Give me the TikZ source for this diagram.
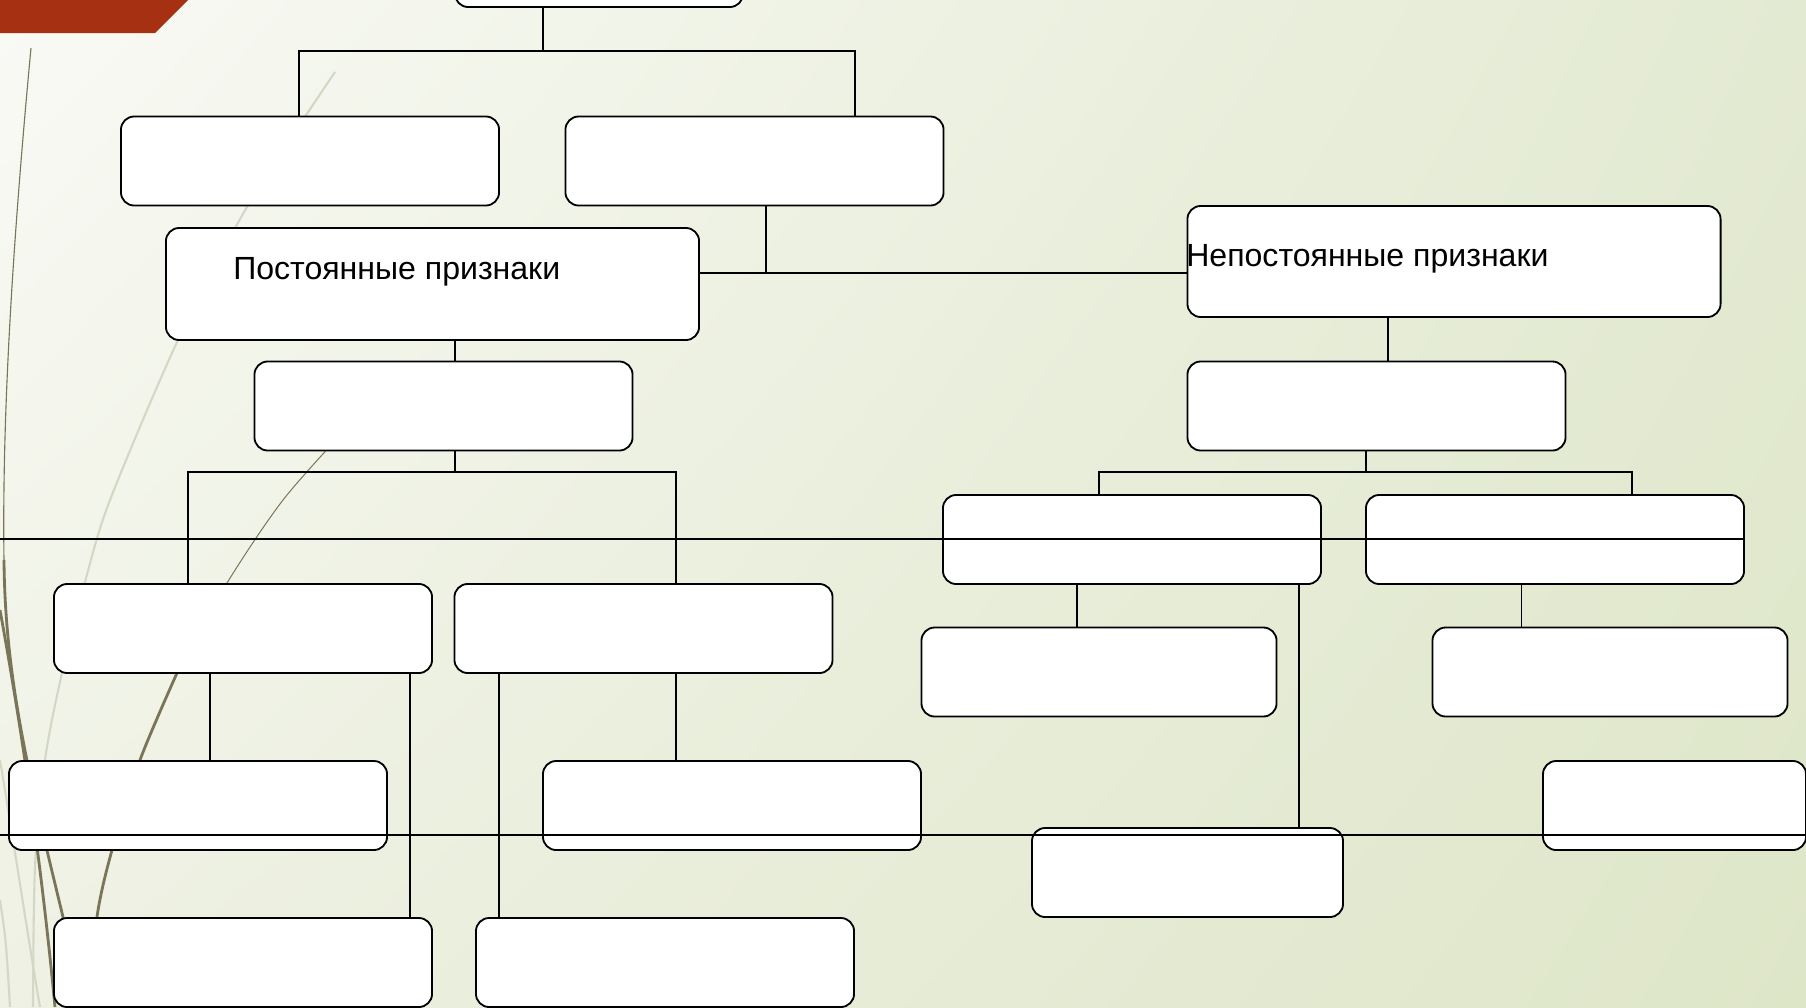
\documentclass[tikz,border=0pt]{standalone}
\usepackage{fontspec}
\setmainfont{Liberation Sans}
\usetikzlibrary{shadings}
\definecolor{bgA}{HTML}{F9FAF5}
\definecolor{bgB}{HTML}{E3EAD2}
\definecolor{bgC}{HTML}{EEF1E3}
\definecolor{bgD}{HTML}{DEE6C8}
\definecolor{redc}{HTML}{A63112}
\definecolor{olivec}{HTML}{7A7458}
\definecolor{lgrey}{HTML}{D5D7C5}
\begin{document}
\begin{tikzpicture}[x=0.025cm, y=-0.025cm,
  box/.style={draw=black, line width=1.3pt, fill=white, rounded corners=0.33cm, rectangle, inner sep=0pt, minimum width=9.45cm, minimum height=2.225cm},
  conn/.style={draw=black, line width=1.1pt},
  stray/.style={draw=black, line width=1.1pt},
  lbl/.style={font=\fontsize{22.8}{27}\selectfont, inner sep=0pt, anchor=base west}]
\useasboundingbox (0,0) rectangle (1806,1007);
\clip (0,0) rectangle (1806,1007);
\shade[upper left=bgA, upper right=bgB, lower left=bgC, lower right=bgD] (0,0) rectangle (1806,1007);
\fill[redc] (0,0) -- (188,0) -- (155,33) -- (0,33) -- cycle;
% decorative curves
\draw[lgrey, line width=1.5pt] plot[smooth] coordinates {(335,72) (247,207) (178,340) (110,500) (85,582) (62,673) (45,760) (35,867) (33,1007)};
\draw[lgrey, line width=1.5pt] (0,760) .. controls (15,850) and (30,950) .. (40,1007);
\draw[lgrey, line width=1.5pt] (0,900) .. controls (6,940) .. (10,1007);
\draw[olivec, line width=0.8pt] (31,48) .. controls (12,250) and (2,420) .. (4,560);
\draw[olivec, line width=2pt] (4,560) .. controls (5,680) and (30,780) .. (63,917) -- (75,1007);
\draw[olivec, line width=2pt] (0,610) .. controls (20,720) and (40,850) .. (55,1007);
\draw[olivec, line width=0.7pt] plot[smooth] coordinates {(345,430) (283,500) (227,583) (177,673)};
\draw[olivec, line width=2pt] plot[smooth] coordinates {(177,673) (140,760) (112,850) (97,917) (90,1007)};
% junction coordinates
\coordinate (t1) at (543,51); \coordinate (a1) at (299,51); \coordinate (b1) at (855,51);
\coordinate (b2) at (766,273);
\coordinate (p1) at (455,0);
\coordinate (c1) at (455,472); \coordinate (d1) at (188,472); \coordinate (e1) at (676,472);
\coordinate (n1) at (1388,0);
\coordinate (f1) at (1366,472); \coordinate (g1) at (1099,472); \coordinate (h1) at (1632,472);
\coordinate (dx1) at (210,0); \coordinate (dx2) at (410,0);
\coordinate (ex1) at (676,0); \coordinate (ex2) at (499,0);
\coordinate (gx1) at (1077,0); \coordinate (gx2) at (1299,0);
\coordinate (hx1) at (1521.5,0);
\coordinate (s1) at (0,539); \coordinate (s2) at (0,835); \coordinate (s2e) at (1806,835);
% boxes
\node[box, minimum width=7.2cm] (T) at (599,-37.5) {};
\node[box] (A) at (310,161) {};
\node[box] (B) at (754.5,161) {};
\node[box, minimum width=13.325cm, minimum height=2.8cm] (P) at (432.5,284) {};
\node[box, minimum width=13.325cm, minimum height=2.775cm] (N) at (1454,261.5) {};
\node[box] (C) at (443.5,406) {};
\node[box] (F) at (1376.5,406) {};
\node[box] (G) at (1132,539.5) {};
\node[box] (H) at (1555,539.5) {};
\node[box] (D) at (243,628.5) {};
\node[box] (E) at (643.5,628.5) {};
\node[box, minimum width=8.875cm] (M) at (1099,672) {};
\node[box, minimum width=8.875cm] (Q) at (1610,672) {};
\node[box] (I) at (198,805.5) {};
\node[box] (J) at (732,805.5) {};
\node[box, minimum width=6.575cm] (R) at (1674.5,805.5) {};
\node[box, minimum width=7.775cm] (O) at (1187.5,872.5) {};
\node[box] (K) at (243,962.5) {};
\node[box] (L) at (665,962.5) {};
% texts
\node[lbl] (Pt) at (233,279.5) {Постоянные признаки};
\node[lbl] (Nt) at (1186,266) {Непостоянные признаки};
% connectors
\draw[conn] (T.south -| t1) -- (t1);
\draw[conn] (A.north -| a1) -- (a1) -- (b1) -- (B.north -| b1);
\draw[conn] (B.south -| b2) -- (b2);
\draw[conn] (P.east |- b2) -- (N.west |- b2);
\draw[conn] (P.south -| p1) -- (C.north -| p1);
\draw[conn] (C.south -| c1) -- (c1);
\draw[conn] (D.north -| d1) -- (d1) -- (e1) -- (E.north -| e1);
\draw[conn] (N.south -| n1) -- (F.north -| n1);
\draw[conn] (F.south -| f1) -- (f1);
\draw[conn] (G.north -| g1) -- (g1) -- (h1) -- (H.north -| h1);
\draw[conn] (D.south -| dx1) -- (I.north -| dx1);
\draw[conn] (D.south -| dx2) -- (K.north -| dx2);
\draw[conn] (E.south -| ex1) -- (J.north -| ex1);
\draw[conn] (E.south -| ex2) -- (L.north -| ex2);
\draw[conn] (G.south -| gx1) -- (M.north -| gx1);
\draw[conn] (G.south -| gx2) -- (O.north -| gx2);
\draw[conn] (H.south -| hx1) -- (Q.north -| hx1);
% stray long lines
\draw[stray] (s1) -- (s1 -| H.east);
\draw[stray] (s2) -- (s2e);
\end{tikzpicture}
\end{document}
